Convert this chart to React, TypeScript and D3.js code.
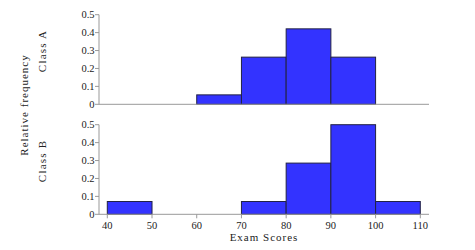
import React, { useEffect, useRef } from "react";
import * as d3 from "d3";

const binStarts = [40, 50, 60, 70, 80, 90, 100];
const classA = [0, 0, 1 / 19, 5 / 19, 8 / 19, 5 / 19, 0];
const classB = [1 / 14, 0, 0, 1 / 14, 4 / 14, 7 / 14, 1 / 14];
const xTicks = [40, 50, 60, 70, 80, 90, 100, 110];
const yTicks = [0, 0.1, 0.2, 0.3, 0.4, 0.5];
const panelLabels = ["Class A", "Class B"];

export default function App() {
  const ref = useRef<SVGSVGElement>(null);
  useEffect(() => {
    const svg = d3.select(ref.current);
    svg.selectAll("*").remove();
    const font = "'Liberation Serif', 'Times New Roman', serif";
    const x = d3.scaleLinear().domain([40, 110]).range([107.3, 420.3]);
    const panels = [
      { data: classA, y: d3.scaleLinear().domain([0, 0.5]).range([104.3, 14.7]), label: panelLabels[0], ticks: false, labelY: 51 },
      { data: classB, y: d3.scaleLinear().domain([0, 0.5]).range([214.3, 124.7]), label: panelLabels[1], ticks: true, labelY: 161 },
    ];
    const axisX0 = 99;
    const axisX1 = 429;
    panels.forEach((p) => {
      const g = svg.append("g");
      g.selectAll("rect")
        .data(binStarts.map((s, i) => ({ s, v: p.data[i] })).filter((d) => d.v > 0))
        .enter()
        .append("rect")
        .attr("x", (d) => x(d.s))
        .attr("width", (d) => x(d.s + 10) - x(d.s))
        .attr("y", (d) => p.y(d.v))
        .attr("height", (d) => p.y(0) - p.y(d.v))
        .attr("fill", "#3333ff")
        .attr("stroke", "#222244")
        .attr("stroke-width", 1);
      g.append("line")
        .attr("x1", axisX0).attr("x2", axisX1)
        .attr("y1", p.y(0)).attr("y2", p.y(0))
        .attr("stroke", "#999").attr("stroke-width", 1);
      g.append("line")
        .attr("x1", axisX0).attr("x2", axisX0)
        .attr("y1", p.y(0)).attr("y2", p.y(0.5))
        .attr("stroke", "#999").attr("stroke-width", 1);
      yTicks.forEach((t) => {
        g.append("line")
          .attr("x1", axisX0 - 4).attr("x2", axisX0)
          .attr("y1", p.y(t)).attr("y2", p.y(t))
          .attr("stroke", "#999");
        g.append("text")
          .attr("x", axisX0 - 4.5)
          .attr("y", p.y(t))
          .attr("dy", "0.35em")
          .attr("text-anchor", "end")
          .attr("font-family", font)
          .attr("font-size", 10.5)
          .attr("fill", "#222")
          .text(t === 0 ? "0" : d3.format(".1f")(t));
      });
      g.append("text")
        .attr("transform", `translate(46,${p.labelY}) rotate(-90)`)
        .attr("text-anchor", "middle")
        .attr("font-family", font)
        .attr("font-size", 11)
        .attr("letter-spacing", 1.2)
        .attr("fill", "#222")
        .text(p.label);
      if (p.ticks) {
        xTicks.forEach((t) => {
          g.append("line")
            .attr("x1", x(t)).attr("x2", x(t))
            .attr("y1", p.y(0)).attr("y2", p.y(0) + 4)
            .attr("stroke", "#999");
          g.append("text")
            .attr("x", x(t))
            .attr("y", p.y(0) + 14.5)
            .attr("text-anchor", "middle")
            .attr("font-family", font)
            .attr("font-size", 10.5)
            .attr("fill", "#222")
            .text(String(t));
        });
      }
    });
    svg.append("text")
      .attr("x", 264)
      .attr("y", 241)
      .attr("text-anchor", "middle")
      .attr("font-family", font)
      .attr("font-size", 11)
      .attr("letter-spacing", 1)
      .attr("fill", "#222")
      .text("Exam Scores");
    svg.append("text")
      .attr("transform", `translate(27.5,105) rotate(-90)`)
      .attr("text-anchor", "middle")
      .attr("font-family", font)
      .attr("font-size", 11)
      .attr("letter-spacing", 1)
      .attr("fill", "#222")
      .text("Relative frequency");
  }, []);
  return (
    <svg
      ref={ref}
      width={475}
      height={250}
      style={{ position: "absolute", left: 0, top: 0, background: "#fff" }}
    />
  );
}
